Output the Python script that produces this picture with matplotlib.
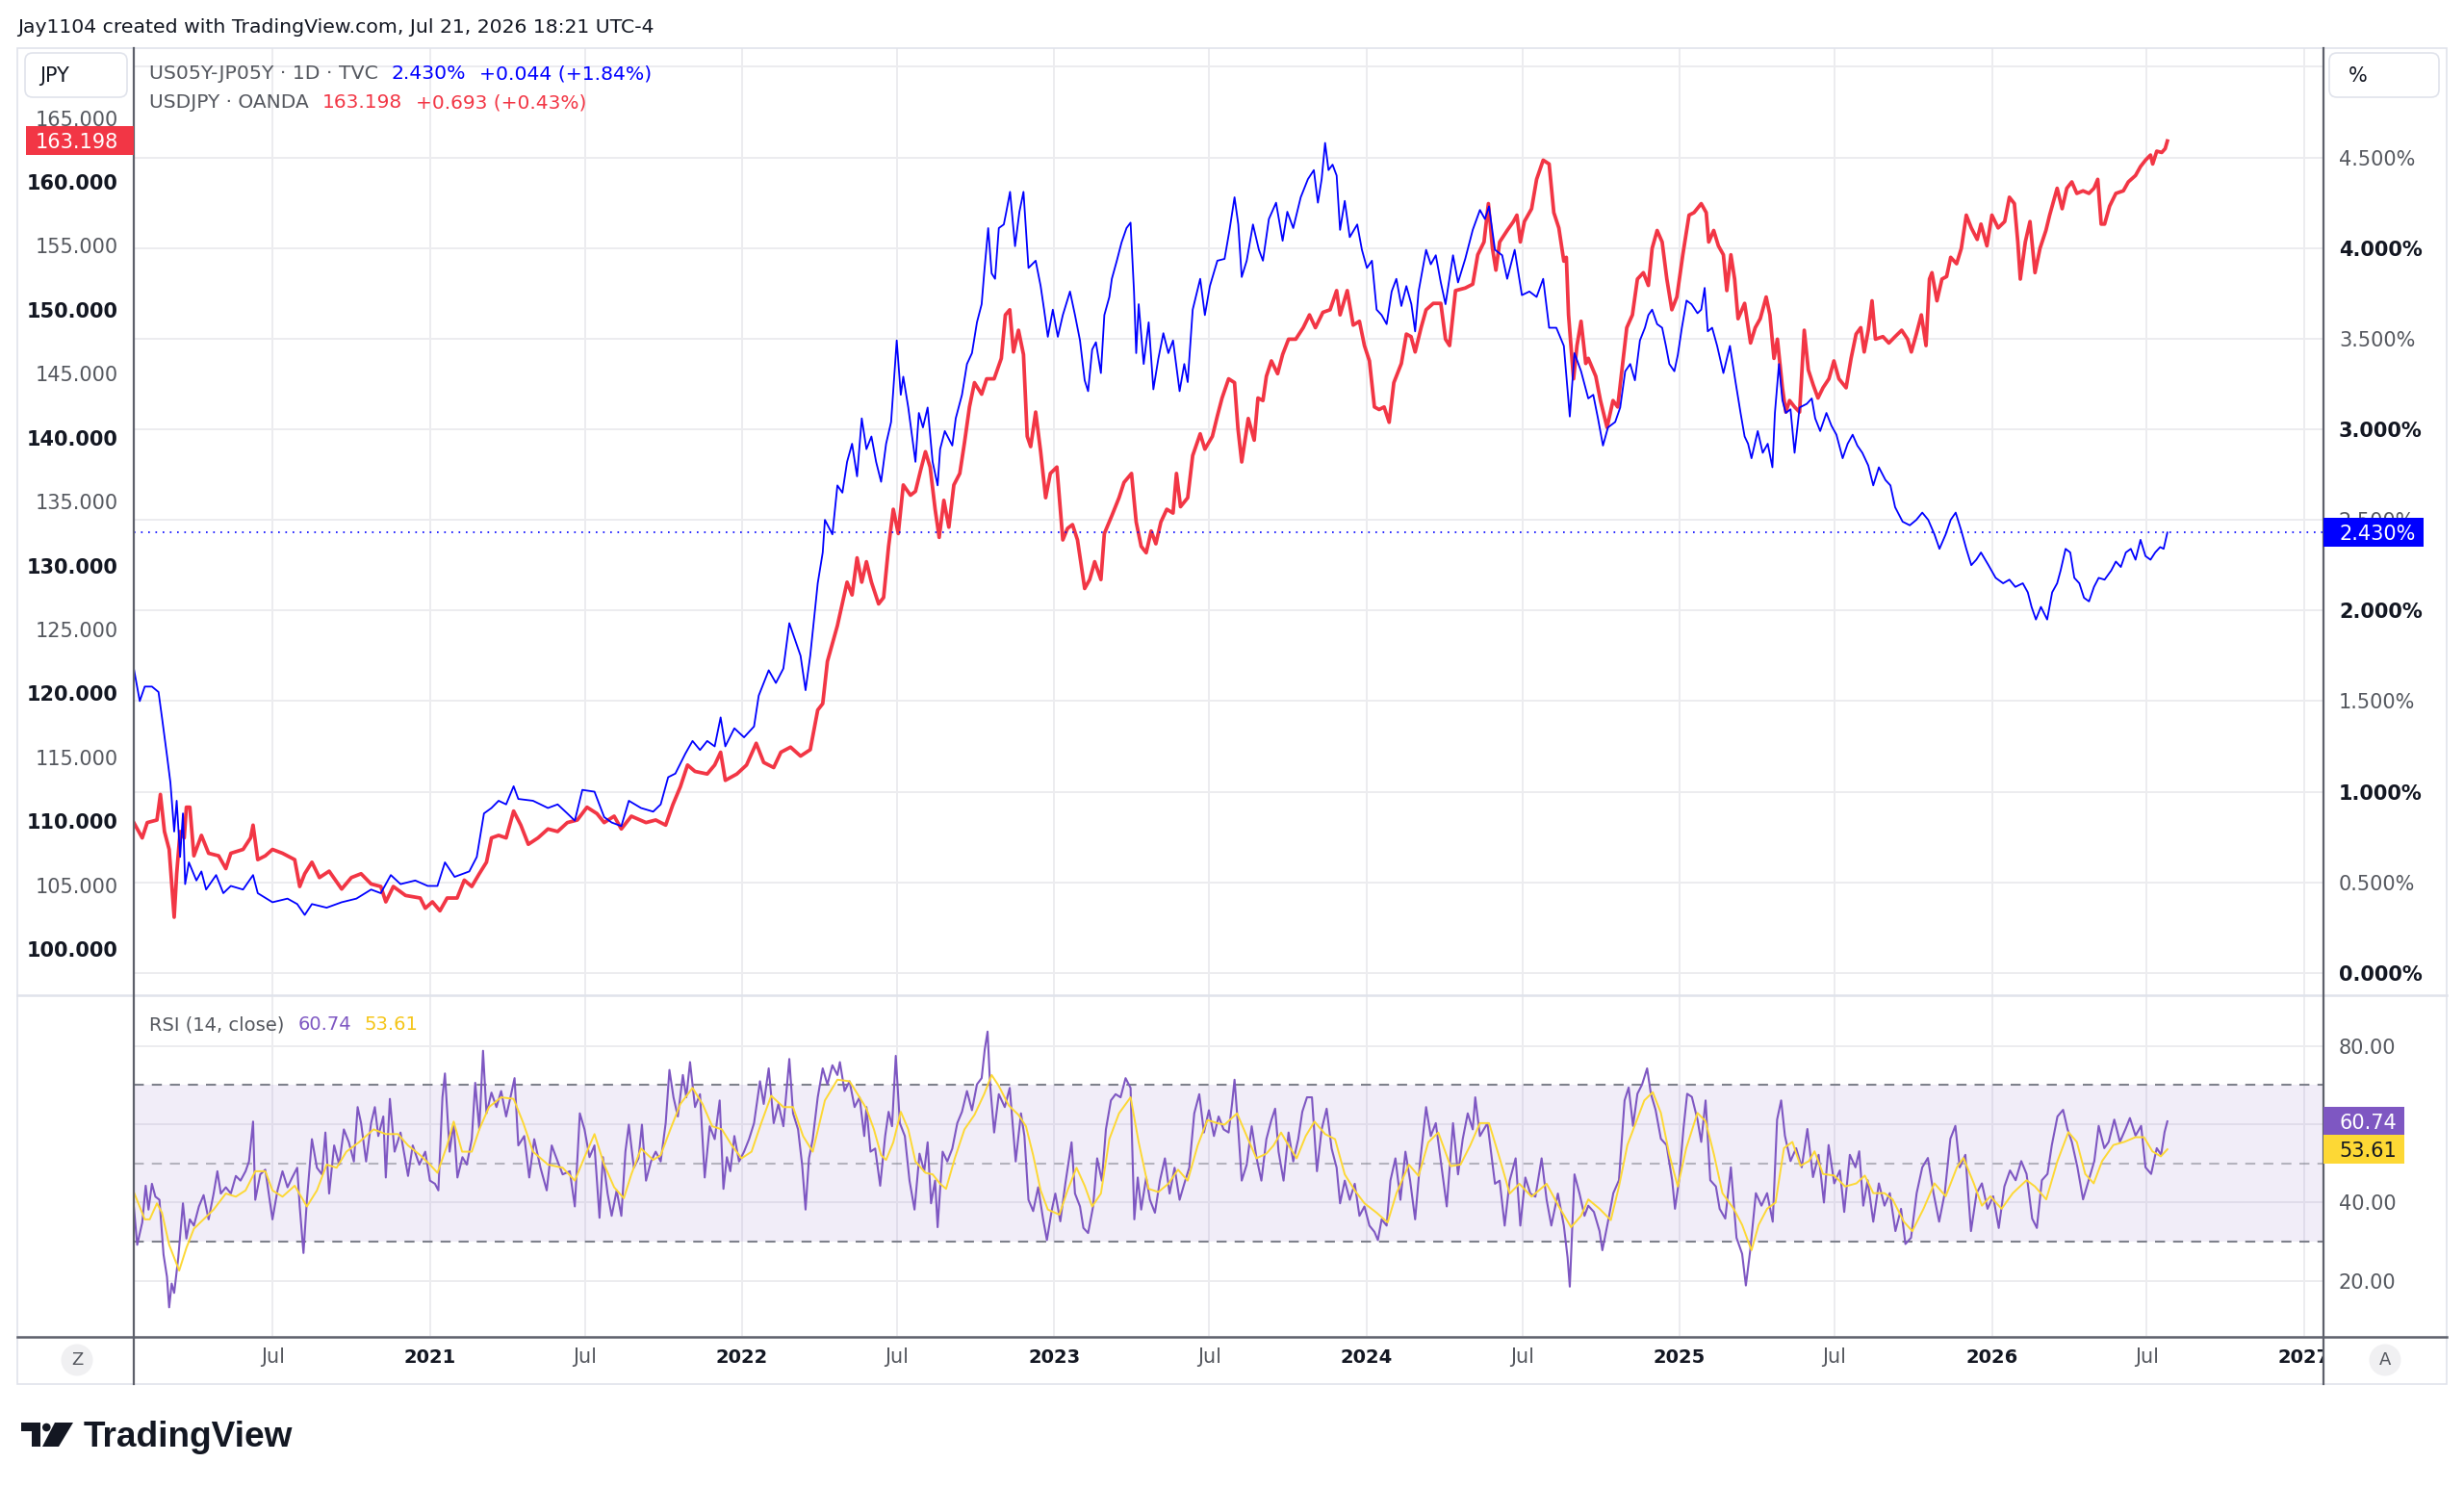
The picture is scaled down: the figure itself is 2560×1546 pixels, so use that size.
import matplotlib
matplotlib.use("Agg")
import matplotlib.pyplot as plt
from matplotlib.lines import Line2D
from matplotlib.patches import Rectangle, Circle, Polygon, FancyBboxPatch
from matplotlib.transforms import IdentityTransform
from datetime import datetime
import numpy as np

plt.rcParams['font.family'] = ['DejaVu Sans']

# ---- data (x in decimal years) ----
spread_year = [
    2020.054, 2020.073, 2020.089, 2020.112, 2020.133, 2020.144, 2020.160, 2020.171, 2020.183, 2020.191,
    2020.202, 2020.211, 2020.218, 2020.230, 2020.254, 2020.270, 2020.285, 2020.317, 2020.340, 2020.364,
    2020.403, 2020.435, 2020.450, 2020.497, 2020.545, 2020.576, 2020.600, 2020.623, 2020.670, 2020.718,
    2020.765, 2020.812, 2020.843, 2020.875, 2020.906, 2020.953, 2020.993, 2021.024, 2021.048, 2021.079,
    2021.126, 2021.150, 2021.173, 2021.197, 2021.220, 2021.244, 2021.268, 2021.283, 2021.330, 2021.378,
    2021.409, 2021.440, 2021.464, 2021.488, 2021.527, 2021.558, 2021.582, 2021.613, 2021.637, 2021.676,
    2021.715, 2021.739, 2021.763, 2021.786, 2021.818, 2021.841, 2021.865, 2021.888, 2021.912, 2021.931,
    2021.946, 2021.975, 2022.006, 2022.038, 2022.053, 2022.085, 2022.108, 2022.132, 2022.151, 2022.171,
    2022.187, 2022.203, 2022.218, 2022.242, 2022.258, 2022.265, 2022.289, 2022.305, 2022.321, 2022.336,
    2022.352, 2022.368, 2022.383,
    2022.398, 2022.414, 2022.429, 2022.445, 2022.461, 2022.477, 2022.495, 2022.508, 2022.516, 2022.532,
    2022.555, 2022.566, 2022.579, 2022.594, 2022.610, 2022.626, 2022.634, 2022.649, 2022.673, 2022.684,
    2022.704, 2022.720, 2022.736, 2022.752, 2022.767, 2022.775, 2022.788, 2022.799, 2022.810, 2022.822,
    2022.838, 2022.846, 2022.858, 2022.874, 2022.888, 2022.901, 2022.917, 2022.940, 2022.956, 2022.967,
    2022.979, 2022.995, 2023.011, 2023.027, 2023.050, 2023.066, 2023.082, 2023.097, 2023.108, 2023.121,
    2023.133, 2023.149, 2023.160, 2023.176, 2023.184, 2023.200, 2023.215, 2023.231, 2023.244, 2023.255,
    2023.262, 2023.270, 2023.286, 2023.302, 2023.317, 2023.333, 2023.349, 2023.365, 2023.380, 2023.401,
    2023.416, 2023.427, 2023.443, 2023.467, 2023.482, 2023.498, 2023.522, 2023.545, 2023.561, 2023.577,
    2023.589, 2023.600, 2023.616, 2023.636, 2023.655, 2023.668, 2023.687, 2023.710, 2023.731, 2023.746,
    2023.765, 2023.789, 2023.812, 2023.831, 2023.844, 2023.856, 2023.867, 2023.878, 2023.891, 2023.904,
    2023.915, 2023.930, 2023.946, 2023.970, 2023.985, 2024.001, 2024.017, 2024.032, 2024.048, 2024.064,
    2024.080, 2024.095, 2024.111, 2024.127, 2024.143, 2024.155, 2024.166, 2024.190, 2024.205, 2024.221,
    2024.237, 2024.252, 2024.276, 2024.292, 2024.315, 2024.339, 2024.362, 2024.378, 2024.391, 2024.410,
    2024.433, 2024.449, 2024.473, 2024.496, 2024.520, 2024.543, 2024.564, 2024.583, 2024.606, 2024.630,
    2024.649, 2024.664, 2024.685,
    2024.708, 2024.724, 2024.739, 2024.755, 2024.771, 2024.794, 2024.810, 2024.826, 2024.842, 2024.857,
    2024.873, 2024.889, 2024.900, 2024.912, 2024.928, 2024.944, 2024.956, 2024.967, 2024.983, 2024.994,
    2025.007, 2025.022, 2025.038, 2025.057, 2025.069, 2025.080, 2025.090, 2025.104, 2025.120, 2025.140,
    2025.161, 2025.179, 2025.195, 2025.208, 2025.219, 2025.230, 2025.250, 2025.266, 2025.282, 2025.297,
    2025.305, 2025.318, 2025.329, 2025.340, 2025.355, 2025.368, 2025.384, 2025.407, 2025.423, 2025.434,
    2025.450, 2025.470, 2025.486, 2025.502, 2025.522, 2025.538, 2025.554, 2025.569, 2025.585, 2025.604,
    2025.620, 2025.638, 2025.659, 2025.675, 2025.690, 2025.714, 2025.737, 2025.758, 2025.777, 2025.796,
    2025.816, 2025.832, 2025.852, 2025.868, 2025.884, 2025.902, 2025.918, 2025.934, 2025.950, 2025.965,
    2025.989, 2026.012, 2026.036, 2026.056, 2026.075, 2026.099, 2026.115, 2026.127, 2026.141, 2026.157,
    2026.177, 2026.193, 2026.209, 2026.220, 2026.236, 2026.251, 2026.264, 2026.280, 2026.295, 2026.311,
    2026.327, 2026.342, 2026.361, 2026.382, 2026.397, 2026.413, 2026.429, 2026.445, 2026.460, 2026.476,
    2026.492, 2026.508, 2026.523, 2026.539, 2026.550, 2026.562,
]
spread_pct = [
    1.68, 1.50, 1.58, 1.58, 1.55, 1.41, 1.20, 1.05, 0.78, 0.95,
    0.64, 0.88, 0.49, 0.61, 0.51, 0.56, 0.46, 0.54, 0.44, 0.48,
    0.46, 0.54, 0.44, 0.39, 0.41, 0.38, 0.32, 0.38, 0.36, 0.39,
    0.41, 0.46, 0.44, 0.54, 0.49, 0.51, 0.48, 0.48, 0.61, 0.53,
    0.56, 0.64, 0.88, 0.91, 0.95, 0.93, 1.03, 0.96, 0.95, 0.91,
    0.93, 0.88, 0.84, 1.01, 1.00, 0.86, 0.83, 0.81, 0.95, 0.91,
    0.89, 0.93, 1.08, 1.10, 1.21, 1.28, 1.23, 1.28, 1.25, 1.41,
    1.25, 1.35, 1.30, 1.36, 1.53, 1.67, 1.60, 1.68, 1.93, 1.83,
    1.75, 1.56, 1.75, 2.15, 2.32, 2.50, 2.42, 2.69, 2.65, 2.82,
    2.92, 2.74, 3.06,
    2.89, 2.96, 2.82, 2.71, 2.92, 3.04, 3.49, 3.19, 3.29, 3.12,
    2.82, 3.09, 3.01, 3.12, 2.82, 2.69, 2.89, 2.99, 2.91, 3.06,
    3.19, 3.36, 3.42, 3.59, 3.69, 3.86, 4.11, 3.86, 3.83, 4.11,
    4.13, 4.20, 4.31, 4.01, 4.20, 4.31, 3.89, 3.93, 3.79, 3.66,
    3.51, 3.66, 3.51, 3.63, 3.76, 3.63, 3.49, 3.27, 3.21, 3.44,
    3.48, 3.31, 3.63, 3.73, 3.83, 3.93, 4.03, 4.11, 4.14, 3.76,
    3.42, 3.69, 3.36, 3.59, 3.22, 3.39, 3.53, 3.42, 3.49, 3.21,
    3.36, 3.26, 3.66, 3.83, 3.63, 3.79, 3.93, 3.94, 4.10, 4.28,
    4.13, 3.84, 3.93, 4.13, 3.99, 3.93, 4.16, 4.25, 4.04, 4.20,
    4.11, 4.28, 4.38, 4.43, 4.25, 4.38, 4.58, 4.43, 4.46, 4.40,
    4.10, 4.26, 4.06, 4.13, 3.99, 3.89, 3.93, 3.66, 3.63, 3.58,
    3.76, 3.83, 3.68, 3.79, 3.69, 3.54, 3.76, 3.99, 3.91, 3.96,
    3.81, 3.69, 3.96, 3.81, 3.94, 4.10, 4.21, 4.16, 4.23, 3.99,
    3.96, 3.83, 3.99, 3.74, 3.76, 3.73, 3.83, 3.56, 3.56, 3.46,
    3.07, 3.42, 3.32,
    3.17, 3.19, 3.06, 2.91, 3.01, 3.04, 3.12, 3.32, 3.36, 3.27,
    3.49, 3.56, 3.63, 3.66, 3.58, 3.56, 3.46, 3.36, 3.32, 3.41,
    3.56, 3.71, 3.69, 3.64, 3.66, 3.78, 3.54, 3.56, 3.46, 3.31,
    3.46, 3.26, 3.09, 2.96, 2.92, 2.84, 2.99, 2.87, 2.92, 2.79,
    3.09, 3.36, 3.16, 3.09, 3.11, 2.87, 3.12, 3.14, 3.17, 3.06,
    2.99, 3.09, 3.02, 2.97, 2.84, 2.92, 2.97, 2.91, 2.87, 2.80,
    2.69, 2.79, 2.72, 2.69, 2.57, 2.49, 2.47, 2.50, 2.54, 2.50,
    2.42, 2.34, 2.42, 2.50, 2.54, 2.44, 2.34, 2.25, 2.28, 2.32,
    2.25, 2.18, 2.15, 2.17, 2.13, 2.15, 2.10, 2.02, 1.95, 2.02,
    1.95, 2.10, 2.15, 2.22, 2.34, 2.32, 2.18, 2.15, 2.07, 2.05,
    2.13, 2.18, 2.17, 2.22, 2.27, 2.24, 2.32, 2.34, 2.28, 2.39,
    2.30, 2.28, 2.32, 2.35, 2.34, 2.430,
]

usdjpy_year = [
    2020.054, 2020.081, 2020.097, 2020.128, 2020.139, 2020.152, 2020.167, 2020.183, 2020.191, 2020.202,
    2020.215, 2020.222, 2020.233, 2020.246, 2020.270, 2020.293, 2020.325, 2020.348, 2020.364, 2020.403,
    2020.427, 2020.435, 2020.450, 2020.474, 2020.497, 2020.529, 2020.568, 2020.584, 2020.600, 2020.623,
    2020.647, 2020.678, 2020.718, 2020.749, 2020.780, 2020.812, 2020.843, 2020.859, 2020.883, 2020.922,
    2020.969, 2020.985, 2021.008, 2021.032, 2021.055, 2021.087, 2021.110, 2021.134, 2021.158, 2021.181,
    2021.197, 2021.220, 2021.244, 2021.268, 2021.291, 2021.315, 2021.346, 2021.378, 2021.409, 2021.440,
    2021.472, 2021.503, 2021.535, 2021.558, 2021.590, 2021.613, 2021.645, 2021.692, 2021.723, 2021.755,
    2021.778, 2021.802, 2021.825, 2021.849, 2021.888, 2021.912, 2021.931, 2021.946, 2021.983, 2022.014,
    2022.045, 2022.069, 2022.101, 2022.124, 2022.155, 2022.187, 2022.218, 2022.242, 2022.258, 2022.273,
    2022.289, 2022.305, 2022.336, 2022.352, 2022.368, 2022.383,
    2022.398, 2022.414, 2022.437, 2022.453, 2022.469, 2022.484, 2022.500, 2022.516, 2022.539, 2022.555,
    2022.571, 2022.587, 2022.602, 2022.618, 2022.631, 2022.646, 2022.662, 2022.678, 2022.697, 2022.712,
    2022.728, 2022.744, 2022.767, 2022.783, 2022.807, 2022.830, 2022.843, 2022.857, 2022.869, 2022.885,
    2022.901, 2022.913, 2022.924, 2022.940, 2022.956, 2022.972, 2022.987, 2023.008, 2023.027, 2023.042,
    2023.058, 2023.074, 2023.097, 2023.113, 2023.129, 2023.149, 2023.160, 2023.184, 2023.207, 2023.223,
    2023.247, 2023.262, 2023.278, 2023.294, 2023.310, 2023.325, 2023.341, 2023.360, 2023.380, 2023.391,
    2023.404, 2023.427, 2023.443, 2023.467, 2023.482, 2023.506, 2023.522, 2023.537, 2023.558, 2023.577,
    2023.588, 2023.600, 2023.621, 2023.640, 2023.652, 2023.668, 2023.679, 2023.695, 2023.715, 2023.731,
    2023.750, 2023.773, 2023.797, 2023.817, 2023.836, 2023.860, 2023.883, 2023.904, 2023.915, 2023.938,
    2023.957, 2023.977, 2023.993, 2024.009, 2024.025, 2024.040, 2024.056, 2024.072, 2024.087, 2024.111,
    2024.127, 2024.142, 2024.155, 2024.174, 2024.190, 2024.213, 2024.237, 2024.252, 2024.265, 2024.284,
    2024.315, 2024.339, 2024.355, 2024.375, 2024.389, 2024.402, 2024.413, 2024.425, 2024.449, 2024.469,
    2024.480, 2024.491, 2024.504, 2024.527, 2024.543, 2024.564, 2024.583, 2024.598, 2024.614, 2024.630,
    2024.638, 2024.645, 2024.661, 2024.672, 2024.685, 2024.700,
    2024.708, 2024.732, 2024.747, 2024.768, 2024.787, 2024.802, 2024.818, 2024.831, 2024.849, 2024.865,
    2024.884, 2024.900, 2024.912, 2024.928, 2024.944, 2024.959, 2024.975, 2024.991, 2025.010, 2025.030,
    2025.046, 2025.069, 2025.085, 2025.093, 2025.109, 2025.124, 2025.140, 2025.151, 2025.164, 2025.176,
    2025.187, 2025.208, 2025.227, 2025.242, 2025.258, 2025.277, 2025.289, 2025.302, 2025.313, 2025.329,
    2025.340, 2025.352, 2025.368, 2025.384, 2025.399, 2025.412, 2025.428, 2025.443, 2025.459, 2025.478,
    2025.494, 2025.510, 2025.533, 2025.549, 2025.565, 2025.580, 2025.591, 2025.604, 2025.616, 2025.627,
    2025.651, 2025.670, 2025.690, 2025.711, 2025.730, 2025.742, 2025.758, 2025.774, 2025.789, 2025.800,
    2025.808, 2025.824, 2025.840, 2025.855, 2025.868, 2025.887, 2025.902, 2025.918, 2025.934, 2025.953,
    2025.965, 2025.984, 2026.000, 2026.020, 2026.041, 2026.056, 2026.072, 2026.083, 2026.091, 2026.107,
    2026.122, 2026.138, 2026.154, 2026.173, 2026.185, 2026.209, 2026.225, 2026.240, 2026.256, 2026.272,
    2026.292, 2026.311, 2026.327, 2026.339, 2026.350, 2026.361, 2026.377, 2026.397, 2026.421, 2026.437,
    2026.460, 2026.476, 2026.492, 2026.508, 2026.515, 2026.528, 2026.544, 2026.555, 2026.562,
]
usdjpy = [
    109.9, 108.7, 109.9, 110.1, 112.1, 109.2, 107.8, 102.5, 105.9, 109.2,
    108.7, 111.1, 111.1, 107.3, 108.9, 107.5, 107.3, 106.3, 107.5, 107.8,
    108.7, 109.7, 107.0, 107.3, 107.8, 107.5, 107.0, 104.9, 105.9, 106.8,
    105.6, 106.1, 104.7, 105.6, 105.9, 105.1, 104.9, 103.7, 104.9, 104.2,
    104.0, 103.2, 103.7, 103.0, 104.0, 104.0, 105.4, 104.9, 105.9, 106.8,
    108.7, 108.9, 108.7, 110.8, 109.7, 108.2, 108.7, 109.4, 109.2, 109.9,
    110.1, 111.1, 110.6, 109.9, 110.4, 109.4, 110.4, 109.9, 110.1, 109.7,
    111.3, 112.7, 114.4, 113.9, 113.7, 114.4, 115.4, 113.2, 113.7, 114.4,
    116.1, 114.6, 114.2, 115.4, 115.8, 115.1, 115.6, 118.7, 119.2, 122.5,
    123.9, 125.3, 128.7, 127.7, 130.6, 128.7,
    130.3, 128.7, 127.0, 127.5, 131.5, 134.4, 132.5, 136.3, 135.5, 135.8,
    137.4, 138.9, 137.7, 134.4, 132.2, 135.1, 133.0, 136.3, 137.2, 139.6,
    142.4, 144.3, 143.4, 144.6, 144.6, 146.2, 149.6, 150.0, 146.7, 148.4,
    146.5, 140.1, 139.3, 142.0, 138.9, 135.3, 137.2, 137.7, 132.0, 132.9,
    133.2, 132.0, 128.2, 128.9, 130.3, 128.9, 132.5, 133.9, 135.3, 136.5,
    137.2, 133.4, 131.5, 131.0, 132.7, 131.7, 133.4, 134.4, 134.1, 137.2,
    134.6, 135.3, 138.6, 140.3, 139.1, 140.1, 141.7, 143.1, 144.6, 144.3,
    140.7, 138.1, 141.5, 139.8, 143.1, 142.9, 144.8, 146.0, 145.0, 146.5,
    147.7, 147.7, 148.6, 149.6, 148.6, 149.8, 150.0, 151.5, 149.6, 151.5,
    148.8, 149.1, 147.2, 146.0, 142.4, 142.2, 142.4, 141.2, 144.3, 145.8,
    148.1, 147.9, 146.7, 148.6, 150.0, 150.5, 150.5, 147.7, 147.2, 151.5,
    151.7, 152.0, 154.3, 155.3, 158.3, 154.8, 153.1, 155.3, 156.2, 156.9,
    157.4, 155.3, 156.9, 157.9, 160.2, 161.7, 161.4, 157.6, 156.4, 153.8,
    154.1, 149.6, 144.6, 147.2, 149.1, 145.8,
    146.2, 144.8, 142.9, 140.8, 142.9, 142.4, 145.8, 148.6, 149.6, 152.4,
    152.9, 151.9, 154.8, 156.2, 155.3, 152.4, 150.0, 151.0, 154.3, 157.4,
    157.6, 158.3, 157.6, 155.3, 156.2, 155.0, 154.3, 151.5, 154.3, 152.4,
    149.3, 150.5, 147.4, 148.6, 149.3, 151.0, 149.6, 146.2, 147.7, 143.9,
    142.0, 142.9, 142.4, 142.0, 148.4, 145.3, 144.1, 143.1, 143.9, 144.6,
    146.0, 144.6, 143.9, 146.2, 148.1, 148.6, 146.7, 148.4, 150.7, 147.7,
    147.9, 147.4, 147.9, 148.4, 147.7, 146.7, 148.1, 149.6, 147.2, 152.4,
    152.9, 150.7, 152.4, 152.6, 154.1, 153.6, 154.8, 157.4, 156.4, 155.5,
    156.7, 155.0, 157.4, 156.4, 156.9, 158.8, 158.3, 155.3, 152.4, 155.3,
    156.9, 152.9, 154.8, 156.2, 157.4, 159.5, 157.9, 159.5, 160.0, 159.1,
    159.3, 159.1, 159.5, 160.2, 156.7, 156.7, 158.1, 159.1, 159.3, 160.0,
    160.5, 161.2, 161.7, 162.1, 161.4, 162.4, 162.3, 162.6, 163.198,
]

rsi_year = [
    2020.054, 2020.065, 2020.081, 2020.092, 2020.101, 2020.112, 2020.123, 2020.136, 2020.149, 2020.160,
    2020.167, 2020.175, 2020.183, 2020.196, 2020.211, 2020.222, 2020.233, 2020.246, 2020.262, 2020.277,
    2020.293, 2020.309, 2020.321, 2020.332, 2020.348, 2020.364, 2020.380, 2020.395, 2020.411, 2020.422,
    2020.435, 2020.442, 2020.458, 2020.474, 2020.485, 2020.497, 2020.513, 2020.529, 2020.545, 2020.560,
    2020.576, 2020.584, 2020.596, 2020.607, 2020.623, 2020.639, 2020.655, 2020.666, 2020.678, 2020.694,
    2020.710, 2020.725, 2020.741, 2020.757, 2020.769, 2020.780, 2020.796, 2020.812, 2020.824, 2020.835,
    2020.851, 2020.859, 2020.872, 2020.887, 2020.906, 2020.930, 2020.945, 2020.966, 2020.985, 2021.000,
    2021.016, 2021.027, 2021.040, 2021.048, 2021.063, 2021.076, 2021.088, 2021.104, 2021.118, 2021.134,
    2021.145, 2021.158, 2021.170, 2021.181, 2021.197, 2021.213, 2021.228, 2021.244, 2021.260, 2021.271,
    2021.283, 2021.302, 2021.318, 2021.334, 2021.354, 2021.374, 2021.390, 2021.409, 2021.425, 2021.448,
    2021.464, 2021.480, 2021.495, 2021.511, 2021.527, 2021.543, 2021.554, 2021.569, 2021.582, 2021.598,
    2021.613, 2021.626, 2021.637, 2021.653, 2021.668, 2021.679, 2021.692, 2021.708, 2021.723, 2021.739,
    2021.755, 2021.767, 2021.780, 2021.794, 2021.810, 2021.821, 2021.833, 2021.849, 2021.865, 2021.880,
    2021.896, 2021.912, 2021.928, 2021.940, 2021.951, 2021.962, 2021.975, 2021.990, 2022.006, 2022.022,
    2022.038, 2022.057, 2022.069, 2022.085, 2022.101, 2022.116, 2022.132, 2022.151, 2022.163, 2022.179,
    2022.192, 2022.203, 2022.214, 2022.226, 2022.242, 2022.258, 2022.273, 2022.289, 2022.305, 2022.313,
    2022.328, 2022.344, 2022.360, 2022.376, 2022.391,
    2022.398, 2022.411, 2022.426, 2022.442, 2022.458, 2022.469, 2022.480, 2022.492, 2022.505, 2022.521,
    2022.536, 2022.552, 2022.568, 2022.583, 2022.594, 2022.605, 2022.618, 2022.626, 2022.642, 2022.657,
    2022.673, 2022.689, 2022.704, 2022.720, 2022.736, 2022.752, 2022.767, 2022.777, 2022.786, 2022.794,
    2022.807, 2022.822, 2022.841, 2022.857, 2022.876, 2022.893, 2022.904, 2022.917, 2022.932, 2022.948,
    2022.964, 2022.976, 2022.992, 2023.003, 2023.019, 2023.035, 2023.055, 2023.066, 2023.082, 2023.093,
    2023.108, 2023.124, 2023.137, 2023.152, 2023.165, 2023.181, 2023.196, 2023.212, 2023.228, 2023.244,
    2023.256, 2023.267, 2023.278, 2023.294, 2023.306, 2023.322, 2023.338, 2023.354, 2023.369, 2023.385,
    2023.401, 2023.416, 2023.432, 2023.448, 2023.464, 2023.479, 2023.495, 2023.511, 2023.526, 2023.542,
    2023.558, 2023.569, 2023.577, 2023.589, 2023.600, 2023.616, 2023.632, 2023.647, 2023.663, 2023.679,
    2023.695, 2023.707, 2023.718, 2023.734, 2023.750, 2023.765, 2023.781, 2023.794, 2023.809, 2023.825,
    2023.841, 2023.856, 2023.872, 2023.888, 2023.904, 2023.915, 2023.930, 2023.946, 2023.962, 2023.977,
    2023.993, 2024.009, 2024.025, 2024.036, 2024.048, 2024.064, 2024.076, 2024.092, 2024.108, 2024.124,
    2024.139, 2024.155, 2024.171, 2024.190, 2024.205, 2024.221, 2024.237, 2024.256, 2024.276, 2024.292,
    2024.307, 2024.323, 2024.339, 2024.347, 2024.362, 2024.386, 2024.410, 2024.425, 2024.441, 2024.457,
    2024.476, 2024.491, 2024.507, 2024.523, 2024.539, 2024.559, 2024.575, 2024.590, 2024.611, 2024.630,
    2024.642, 2024.649, 2024.664, 2024.680, 2024.696,
    2024.708, 2024.726, 2024.744, 2024.753, 2024.771, 2024.788, 2024.806, 2024.824, 2024.837, 2024.851,
    2024.865, 2024.880, 2024.896, 2024.908, 2024.923, 2024.940, 2024.958, 2024.976, 2024.985, 2024.998,
    2025.012, 2025.024, 2025.039, 2025.057, 2025.069, 2025.083, 2025.098, 2025.116, 2025.128, 2025.146,
    2025.164, 2025.182, 2025.200, 2025.212, 2025.226, 2025.244, 2025.262, 2025.280, 2025.298, 2025.312,
    2025.325, 2025.337, 2025.355, 2025.373, 2025.391, 2025.409, 2025.427, 2025.445, 2025.462, 2025.477,
    2025.495, 2025.513, 2025.527, 2025.545, 2025.563, 2025.575, 2025.588, 2025.602, 2025.620, 2025.638,
    2025.656, 2025.673, 2025.691, 2025.709, 2025.723, 2025.741, 2025.759, 2025.777, 2025.795, 2025.813,
    2025.831, 2025.849, 2025.867, 2025.883, 2025.897, 2025.915, 2025.933, 2025.951, 2025.968, 2025.986,
    2026.004, 2026.022, 2026.040, 2026.058, 2026.076, 2026.094, 2026.111, 2026.129, 2026.144, 2026.160,
    2026.178, 2026.192, 2026.210, 2026.228, 2026.242, 2026.256, 2026.274, 2026.292, 2026.310, 2026.328,
    2026.342, 2026.360, 2026.374, 2026.392, 2026.410, 2026.428, 2026.442, 2026.460, 2026.478, 2026.492,
    2026.510, 2026.528, 2026.542, 2026.553, 2026.562,
]
rsi_vals = [
    39.0, 29.2, 34.9, 44.3, 38.2, 44.8, 41.5, 40.7, 26.7, 21.0,
    13.2, 19.3, 16.9, 25.9, 39.8, 30.8, 35.7, 34.1, 39.0, 41.9,
    35.7, 42.3, 48.0, 42.3, 43.9, 42.3, 46.8, 45.6, 48.0, 50.5,
    60.7, 40.7, 47.2, 48.4, 42.3, 35.7, 43.1, 48.0, 43.9, 46.4,
    48.9, 39.0, 27.1, 40.7, 56.2, 48.9, 47.2, 57.9, 42.3, 54.6,
    49.7, 58.7, 55.4, 50.5, 64.4, 60.3, 50.5, 60.3, 64.4, 57.0,
    62.0, 46.4, 66.5, 53.0, 57.9, 46.8, 54.6, 49.7, 53.0, 45.6,
    44.8, 43.1, 66.9, 73.0, 53.0, 60.3, 46.4, 51.6, 49.7, 56.2,
    70.6, 58.7, 78.8, 62.8, 68.1, 64.4, 68.5, 62.0, 67.7, 71.8,
    54.6, 57.0, 46.4, 56.2, 48.9, 43.1, 54.6, 50.5, 47.2, 48.0,
    39.0, 62.8, 58.7, 51.6, 54.6, 36.1, 51.6, 42.3, 36.6, 43.1,
    36.6, 53.0, 59.9, 48.9, 51.3, 59.9, 45.6, 50.5, 53.0, 50.5,
    60.3, 73.9, 66.9, 62.0, 72.6, 66.9, 75.9, 64.4, 67.7, 46.4,
    59.5, 56.2, 66.1, 43.5, 51.6, 48.0, 57.0, 50.5, 53.0, 56.2,
    60.3, 71.0, 65.2, 74.3, 60.3, 65.2, 59.5, 76.7, 62.8, 58.7,
    49.7, 38.2, 51.3, 56.2, 66.9, 74.3, 70.2, 75.1, 72.6, 75.9,
    68.5, 71.0, 64.4, 66.9, 57.0,
    64.4, 53.0, 53.8, 44.3, 57.0, 63.2, 59.5, 77.5, 60.3, 57.0,
    45.6, 38.2, 52.5, 48.0, 55.4, 39.8, 45.6, 33.7, 53.0, 50.5,
    53.8, 60.3, 63.2, 68.5, 63.6, 70.2, 71.8, 79.2, 83.7, 70.2,
    57.9, 67.7, 64.4, 69.3, 50.5, 62.8, 57.0, 40.7, 37.8, 43.9,
    35.7, 30.4, 38.2, 42.3, 35.2, 44.8, 55.4, 42.3, 39.0, 33.5,
    32.2, 39.0, 51.3, 45.6, 58.7, 66.1, 67.7, 66.9, 71.8, 69.3,
    35.7, 46.4, 38.2, 46.4, 40.7, 37.4, 45.6, 51.3, 42.3, 48.9,
    40.7, 44.8, 48.9, 62.8, 67.7, 57.9, 63.6, 57.0, 62.0, 58.7,
    57.9, 65.2, 71.4, 58.7, 45.6, 49.7, 59.5, 51.6, 45.6, 56.2,
    61.1, 64.0, 53.0, 45.6, 57.9, 50.5, 56.2, 63.2, 66.9, 66.9,
    48.0, 58.7, 64.0, 53.8, 48.9, 39.8, 45.6, 40.7, 44.8, 36.6,
    39.0, 34.1, 32.5, 30.4, 35.7, 34.1, 45.6, 51.3, 40.7, 53.0,
    45.6, 35.7, 50.5, 64.4, 57.0, 60.3, 50.5, 39.0, 60.3, 47.2,
    56.2, 62.8, 58.7, 66.9, 57.0, 60.3, 44.8, 45.6, 34.1, 45.6,
    51.3, 34.1, 46.4, 42.3, 41.5, 51.3, 40.7, 34.1, 42.3, 34.1,
    25.9, 18.5, 47.2, 42.3, 36.6,
    39.2, 37.6, 32.7, 27.8, 35.1, 42.4, 45.7, 66.1, 69.4, 59.6,
    67.8, 70.2, 74.3, 67.8, 63.7, 56.3, 54.7, 45.7, 38.4, 45.7,
    58.8, 67.8, 67.0, 61.2, 55.5, 66.1, 45.7, 44.1, 38.4, 35.9,
    49.0, 31.0, 26.9, 18.8, 27.8, 42.4, 39.2, 42.4, 35.1, 61.2,
    66.1, 57.1, 50.6, 53.9, 49.0, 58.8, 46.5, 52.2, 40.0, 54.7,
    44.9, 48.2, 37.6, 52.2, 49.0, 53.1, 39.2, 45.7, 35.1, 44.9,
    39.2, 42.4, 32.7, 38.4, 29.4, 31.0, 42.4, 49.0, 51.4, 42.4,
    35.1, 42.4, 56.3, 59.6, 49.0, 52.2, 32.7, 42.4, 44.9, 38.4,
    41.6, 33.5, 44.1, 48.2, 45.7, 50.6, 47.3, 35.9, 33.5, 45.7,
    47.3, 54.7, 62.0, 63.7, 58.8, 55.5, 49.0, 40.8, 45.7, 50.6,
    59.6, 53.9, 55.5, 61.2, 55.5, 58.8, 61.6, 57.1, 59.6, 49.0,
    47.3, 53.9, 52.2, 58.0, 60.74,
]

rsi_ma_year = [
    2020.054, 2020.089, 2020.105, 2020.128, 2020.144, 2020.167, 2020.199, 2020.222, 2020.246, 2020.277,
    2020.309, 2020.348, 2020.380, 2020.411, 2020.442, 2020.474, 2020.497, 2020.529, 2020.568, 2020.607,
    2020.639, 2020.670, 2020.702, 2020.733, 2020.773, 2020.820, 2020.859, 2020.898, 2020.930, 2020.969,
    2021.000, 2021.024, 2021.055, 2021.076, 2021.103, 2021.134, 2021.158, 2021.189, 2021.228, 2021.268,
    2021.299, 2021.330, 2021.378, 2021.425, 2021.464, 2021.495, 2021.527, 2021.558, 2021.590, 2021.621,
    2021.645, 2021.676, 2021.715, 2021.739, 2021.770, 2021.802, 2021.841, 2021.873, 2021.904, 2021.935,
    2021.967, 2021.998, 2022.030, 2022.061, 2022.093, 2022.132, 2022.163, 2022.195, 2022.226, 2022.265,
    2022.305, 2022.344, 2022.376,
    2022.398, 2022.422, 2022.445, 2022.461, 2022.484, 2022.508, 2022.532, 2022.555, 2022.587, 2022.610,
    2022.634, 2022.653, 2022.681, 2022.712, 2022.744, 2022.775, 2022.799, 2022.822, 2022.854, 2022.885,
    2022.909, 2022.932, 2022.956, 2022.979, 2023.016, 2023.042, 2023.071, 2023.097, 2023.121, 2023.149,
    2023.176, 2023.207, 2023.244, 2023.270, 2023.302, 2023.333, 2023.365, 2023.396, 2023.427, 2023.459,
    2023.490, 2023.522, 2023.545, 2023.585, 2023.616, 2023.647, 2023.679, 2023.702, 2023.726, 2023.750,
    2023.776, 2023.805, 2023.833, 2023.867, 2023.899, 2023.930, 2023.962, 2023.993, 2024.032, 2024.067,
    2024.095, 2024.135, 2024.166, 2024.197, 2024.229, 2024.268, 2024.300, 2024.331, 2024.362, 2024.391,
    2024.425, 2024.457, 2024.488, 2024.527, 2024.575, 2024.614, 2024.653, 2024.685,
    2024.708, 2024.744, 2024.780, 2024.806, 2024.833, 2024.860, 2024.887, 2024.914, 2024.940, 2024.967,
    2024.994, 2025.021, 2025.057, 2025.083, 2025.110, 2025.137, 2025.173, 2025.200, 2025.230, 2025.253,
    2025.280, 2025.307, 2025.334, 2025.361, 2025.387, 2025.414, 2025.432, 2025.459, 2025.495, 2025.530,
    2025.566, 2025.593, 2025.620, 2025.656, 2025.682, 2025.718, 2025.745, 2025.781, 2025.816, 2025.852,
    2025.888, 2025.909, 2025.942, 2025.968, 2025.995, 2026.031, 2026.067, 2026.111, 2026.138, 2026.174,
    2026.210, 2026.245, 2026.272, 2026.299, 2026.326, 2026.353, 2026.389, 2026.424, 2026.460, 2026.487,
    2026.514, 2026.541, 2026.562,
]
rsi_ma_vals = [
    42.7, 35.7, 35.7, 39.8, 37.4, 29.2, 22.6, 28.4, 33.3, 35.7,
    38.2, 42.3, 41.5, 43.1, 48.0, 48.0, 43.1, 41.5, 44.3, 39.0,
    43.1, 49.7, 48.9, 53.0, 55.4, 58.7, 57.5, 57.5, 54.6, 52.1,
    49.7, 47.6, 54.6, 60.7, 53.0, 53.0, 58.7, 64.4, 66.9, 66.5,
    60.3, 53.0, 49.7, 48.9, 45.6, 51.6, 57.5, 49.7, 43.9, 41.1,
    47.2, 53.8, 50.9, 52.1, 58.7, 65.2, 69.3, 65.2, 59.5, 58.7,
    54.6, 51.3, 53.0, 60.3, 67.3, 64.4, 64.4, 57.0, 53.0, 66.1,
    71.4, 71.0, 66.9,
    64.0, 58.7, 52.1, 50.9, 55.4, 63.2, 58.7, 50.5, 47.6, 47.2,
    44.8, 43.5, 51.3, 58.7, 62.4, 67.7, 72.6, 69.8, 64.8, 62.4,
    59.5, 52.1, 43.1, 38.2, 36.9, 43.1, 48.9, 44.3, 39.0, 42.3,
    56.2, 62.8, 66.9, 55.4, 43.5, 42.7, 44.8, 48.4, 45.6, 54.6,
    61.1, 60.3, 59.9, 62.8, 57.0, 51.3, 52.5, 54.6, 57.9, 54.6,
    51.3, 57.0, 60.7, 57.5, 56.2, 47.2, 43.1, 39.8, 37.4, 34.9,
    42.3, 49.7, 46.8, 55.4, 57.9, 49.3, 49.7, 54.6, 60.3, 60.3,
    51.3, 42.3, 44.8, 41.5, 44.8, 39.0, 33.7, 36.6,
    40.8, 38.4, 35.5, 44.1, 54.7, 60.4, 66.1, 68.2, 62.9, 52.2,
    44.1, 53.9, 62.9, 60.8, 52.2, 42.4, 38.4, 34.3, 27.8, 34.3,
    38.4, 40.0, 53.9, 55.5, 49.4, 50.6, 53.1, 47.3, 46.9, 44.1,
    44.9, 46.9, 42.4, 42.4, 40.8, 35.1, 32.7, 38.4, 44.9, 41.6,
    49.0, 51.4, 44.9, 39.2, 41.6, 38.4, 42.4, 45.7, 44.1, 40.8,
    50.6, 58.0, 55.5, 47.3, 44.9, 50.6, 54.7, 55.5, 56.7, 56.7,
    53.1, 51.8, 53.61,
]

jpy_ticks = [100, 105, 110, 115, 120, 125, 130, 135, 140, 145, 150, 155, 160, 165]
pct_ticks = [0.0, 0.5, 1.0, 1.5, 2.0, 2.5, 3.0, 3.5, 4.0, 4.5]
rsi_ticks = [20, 40, 60, 80]
rsi_levels = [70, 50, 30]

header = "Jay1104 created with TradingView.com, Jul 21, 2026 18:21 UTC-4"
spread_name = "US05Y-JP05Y \u00b7 1D \u00b7 TVC"
spread_change = "+0.044 (+1.84%)"
usdjpy_name = "USDJPY \u00b7 OANDA"
usdjpy_change = "+0.693 (+0.43%)"
rsi_name = "RSI (14, close)"

# ---- style ----
W, H = 2560, 1546
BLUE, RED, PURPLE, YELLOW = '#0000FF', '#F23645', '#7E57C2', '#FDD835'
GRID, FRAME, AXLINE = '#ececef', '#e0e3eb', '#5d606b'
TXT, TXT2 = '#131722', '#55585f'


def to_date(y):
    yr = int(y)
    a, b = datetime(yr, 1, 1), datetime(yr + 1, 1, 1)
    return a + (b - a) * (y - yr)


def dates(years):
    return [to_date(v) for v in years]


fig = plt.figure(figsize=(W / 100, H / 100), dpi=100)
fig.patch.set_facecolor('white')
pix = IdentityTransform()
R = fig.canvas.get_renderer()


def Y(y):
    return H - y


def box(l, t, r, b):
    return [l / W, 1 - b / H, (r - l) / W, (b - t) / H]


def clean(ax):
    for s in ax.spines.values():
        s.set_visible(False)


xlim = (to_date(2020.054), to_date(2027.062))
ticks = [datetime(y, m, 1) for y in range(2020, 2028) for m in (1, 7)]
ticks = [t for t in ticks if xlim[0] <= t <= xlim[1]]
tick_labels = [str(t.year) if t.month == 1 else 'Jul' for t in ticks]

main_box = box(139, 50, 2414, 1034)
pct_lim = (-0.123, 5.103)
jpy_lim = (96.40, 170.46)

# main pane grid
ax_bg = fig.add_axes(main_box, zorder=0)
ax_bg.set_xlim(xlim)
ax_bg.set_ylim(pct_lim)
ax_bg.set_xticks(ticks)
ax_bg.set_yticks(np.arange(0, 5.01, 0.5))
ax_bg.grid(True, color=GRID, lw=1.4)
ax_bg.tick_params(left=False, bottom=False, labelleft=False, labelbottom=False)
clean(ax_bg)

# USDJPY (left scale)
ax_j = fig.add_axes(main_box, zorder=1)
ax_j.patch.set_visible(False)
ax_j.plot(dates(usdjpy_year), usdjpy, color=RED, lw=2.7, solid_joinstyle='round')
ax_j.set_xlim(xlim)
ax_j.set_ylim(jpy_lim)
ax_j.set_yticks(jpy_ticks, [f'{v:.3f}' for v in jpy_ticks])
ax_j.tick_params(axis='y', length=0, pad=11.5, labelsize=15, labelcolor=TXT2)
ax_j.tick_params(axis='x', bottom=False, labelbottom=False)
for lab, v in zip(ax_j.get_yticklabels(), jpy_ticks):
    if v % 10 == 0:
        lab.set_fontweight('bold')
        lab.set_color(TXT)
clean(ax_j)

# spread (right scale)
ax_p = fig.add_axes(main_box, zorder=2)
ax_p.patch.set_visible(False)
ax_p.plot(dates(spread_year), spread_pct, color=BLUE, lw=1.3)
ax_p.axhline(spread_pct[-1], color=BLUE, lw=1.2, ls=(0, (1, 3.5)))
ax_p.set_xlim(xlim)
ax_p.set_ylim(pct_lim)
ax_p.yaxis.tick_right()
ax_p.set_yticks(pct_ticks, [f'{v:.3f}%' for v in pct_ticks])
ax_p.tick_params(axis='y', length=0, pad=11.5, labelsize=15, labelcolor=TXT2)
ax_p.tick_params(axis='x', bottom=False, labelbottom=False)
for lab, v in zip(ax_p.get_yticklabels(), pct_ticks):
    if float(v).is_integer():
        lab.set_fontweight('bold')
        lab.set_color(TXT)
clean(ax_p)

# RSI pane
ax_r = fig.add_axes(box(139, 1034, 2414, 1388), zorder=1)
ax_r.set_xlim(xlim)
ax_r.set_ylim(5.9, 93.0)
ax_r.axhspan(rsi_levels[-1], rsi_levels[0], color=PURPLE, alpha=0.1, lw=0)
for lv in rsi_levels:
    ax_r.axhline(lv, color='#787B86', alpha=0.5 if lv == 50 else 0.95, lw=1.5, ls=(0, (5, 4)))
ax_r.plot(dates(rsi_year), rsi_vals, color=PURPLE, lw=1.5)
ax_r.plot(dates(rsi_ma_year), rsi_ma_vals, color=YELLOW, lw=1.4)
ax_r.set_xticks(ticks, tick_labels)
ax_r.yaxis.tick_right()
ax_r.set_yticks(rsi_ticks, [f'{v:.2f}' for v in rsi_ticks])
ax_r.grid(True, color=GRID, lw=1.4)
ax_r.set_axisbelow(True)
ax_r.tick_params(axis='y', length=0, pad=11.5, labelsize=15, labelcolor=TXT2)
ax_r.tick_params(axis='x', length=0, pad=9, labelsize=15, labelcolor=TXT2)
for lab in ax_r.get_xticklabels():
    if lab.get_text() != 'Jul':
        lab.set_fontweight('bold')
        lab.set_color(TXT)
        lab.set_fontsize(14)
clean(ax_r)


# ---- frame lines ----
def seg(x0, y0, x1, y1, color, lw, z=4):
    fig.add_artist(Line2D([x0, x1], [Y(y0), Y(y1)], color=color, lw=lw, transform=pix, zorder=z))


fig.add_artist(Rectangle((18, Y(1438)), 2524, 1388, fill=False, ec=FRAME, lw=1.2, transform=pix, zorder=3))
seg(18, 1034, 2542, 1034, FRAME, 1.8)
# hide tick label spill into right column
fig.add_artist(Rectangle((2415, Y(1437)), 126, 47, fc='white', ec='none', transform=pix, zorder=5))
seg(18, 1389, 2542, 1389, AXLINE, 1.8, 6)
seg(139, 50, 139, 1438, AXLINE, 1.6, 6)
seg(2414, 50, 2414, 1438, AXLINE, 1.6, 6)


# ---- value tags ----
def tag(ax, value, text, x0, x1, fc, tc, tx, ha):
    yp = ax.transData.transform((ax.get_xlim()[0], value))[1]
    h = 30
    fig.add_artist(Rectangle((x0, yp - h / 2), x1 - x0, h, fc=fc, ec='none', transform=pix, zorder=7))
    fig.text(tx, yp, text, color=tc, fontsize=15, ha=ha, va='center_baseline', transform=pix, zorder=8)


tag(ax_j, usdjpy[-1], f'{usdjpy[-1]:.3f}', 27, 139, RED, 'white', 123, 'right')
tag(ax_p, spread_pct[-1], f'{spread_pct[-1]:.3f}%', 2414, 2518, BLUE, 'white', 2430, 'left')
tag(ax_r, rsi_vals[-1], f'{rsi_vals[-1]:.2f}', 2414, 2498, PURPLE, 'white', 2430, 'left')
tag(ax_r, rsi_ma_vals[-1], f'{rsi_ma_vals[-1]:.2f}', 2414, 2498, YELLOW, TXT, 2430, 'left')


# ---- texts ----
def fit(t, width):
    w = t.get_window_extent(R).width
    t.set_fontsize(t.get_fontsize() * width / w)


def text_row(x, y, parts, size, total, gap=14):
    ts = [fig.text(x, Y(y), s, color=c, fontsize=size, ha='left', va='center',
                   transform=pix, zorder=8) for s, c in parts]
    ws = [t.get_window_extent(R).width for t in ts]
    k = (total - gap * (len(ts) - 1)) / sum(ws)
    for t in ts:
        t.set_fontsize(size * k)
    xx = x
    for t in ts:
        t.set_x(xx)
        xx += t.get_window_extent(R).width + gap


t = fig.text(18, Y(29), header, color=TXT, fontsize=14, ha='left', va='center', transform=pix)
fit(t, 662)

text_row(155, 77, [(spread_name, TXT2), (f'{spread_pct[-1]:.3f}%', BLUE), (spread_change, BLUE)], 15, 523)
text_row(155, 107, [(usdjpy_name, TXT2), (f'{usdjpy[-1]:.3f}', RED), (usdjpy_change, RED)], 15, 454)
text_row(155, 1065, [(rsi_name, TXT2), (f'{rsi_vals[-1]:.2f}', PURPLE), (f'{rsi_ma_vals[-1]:.2f}', '#F5C518')], 14, 280)

# scale-mode boxes
for (l, r, s, tx) in ((26, 132, 'JPY', 41), (2420, 2534, '%', 2440)):
    fig.add_artist(FancyBboxPatch((l, Y(101)), r - l, 46, boxstyle='round,pad=0,rounding_size=8',
                                  fc='white', ec=FRAME, lw=1.2, transform=pix, zorder=7))
    fig.text(tx, Y(79), s, color=TXT, fontsize=15, ha='left', va='center', transform=pix, zorder=8)

# Z / A buttons
for cx, s in ((80, 'Z'), (2478, 'A')):
    fig.add_artist(Circle((cx, Y(1413)), 16.5, fc='#f0f0f2', ec='none', transform=pix, zorder=7))
    fig.text(cx, Y(1413), s, color=TXT2, fontsize=13, ha='center', va='center', transform=pix, zorder=8)

# TradingView logo
fig.add_artist(Rectangle((21.7, Y(1487)), 20, 9, fc=TXT, ec='none', transform=pix))
fig.add_artist(Rectangle((33, Y(1503)), 9, 25, fc=TXT, ec='none', transform=pix))
fig.add_artist(Circle((48.3, Y(1483)), 4.3, fc=TXT, ec='none', transform=pix))
fig.add_artist(Polygon([(57, Y(1478)), (76, Y(1478)), (61, Y(1503)), (44, Y(1503))],
                       closed=True, fc=TXT, ec='none', transform=pix))
t = fig.text(87, Y(1503), 'TradingView', color=TXT, fontsize=25, fontweight='bold',
             family=['Liberation Sans', 'DejaVu Sans'], ha='left', va='baseline', transform=pix)
fit(t, 217)

fig.savefig('out.png', dpi=100)
